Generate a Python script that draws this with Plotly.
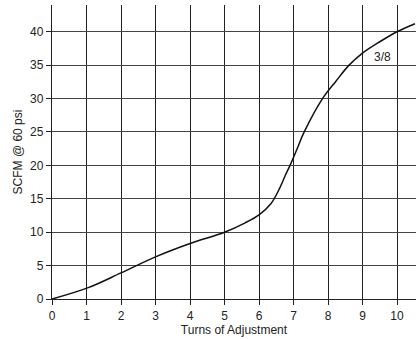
import plotly.graph_objects as go

turns = [0, 1.05, 2, 3, 4, 5, 5.6, 6, 6.35, 6.6, 6.78, 6.9, 7.09, 7.31, 7.84, 8.23, 8.61, 9, 9.5, 10, 10.52]
scfm = [0, 1.7, 3.9, 6.3, 8.3, 10.0, 11.4, 12.6, 14.3, 16.6, 18.7, 20, 22.3, 25, 30, 32.6, 35, 36.8, 38.5, 40, 41.2]
x_ticks = list(range(0, 11))
y_ticks = list(range(0, 45, 5))
curve_label = "3/8"

fig = go.Figure()
fig.add_trace(go.Scatter(x=turns, y=scfm, mode="lines",
                         line=dict(color="#111", width=1.5, shape="spline", smoothing=1.0),
                         showlegend=False, hoverinfo="skip"))
fig.add_annotation(x=9.58, y=36.2, text=curve_label, showarrow=False,
                   font=dict(size=12, color="#222", family="Liberation Sans, Arial, sans-serif"))

axis_font = dict(size=12, color="#222", family="Liberation Sans, Arial, sans-serif")
fig.update_layout(
    width=416, height=339,
    margin=dict(l=52, r=0, t=5, b=40),
    paper_bgcolor="white", plot_bgcolor="white",
    font=axis_font,
    xaxis=dict(range=[0, 10.55], tickvals=x_ticks, ticks="outside", ticklen=5, tickcolor="#222",
               showgrid=True, gridcolor="#222", gridwidth=1.3, zeroline=False,
               showline=True, linecolor="#222", linewidth=1.3,
               title=dict(text="Turns of Adjustment", font=dict(size=12), standoff=4),
               tickfont=axis_font),
    yaxis=dict(range=[0, 44], tickvals=y_ticks, ticks="outside", ticklen=5, tickcolor="#222",
               showgrid=True, gridcolor="#444", gridwidth=1.3, zeroline=False,
               showline=True, linecolor="#222", linewidth=1.3,
               title=dict(text="SCFM @ 60 psi", font=dict(size=12), standoff=4),
               tickfont=axis_font),
)
fig.write_html("out.html", config={"displayModeBar": False},
               post_script="document.body.style.margin='0';document.body.style.overflow='hidden';")
